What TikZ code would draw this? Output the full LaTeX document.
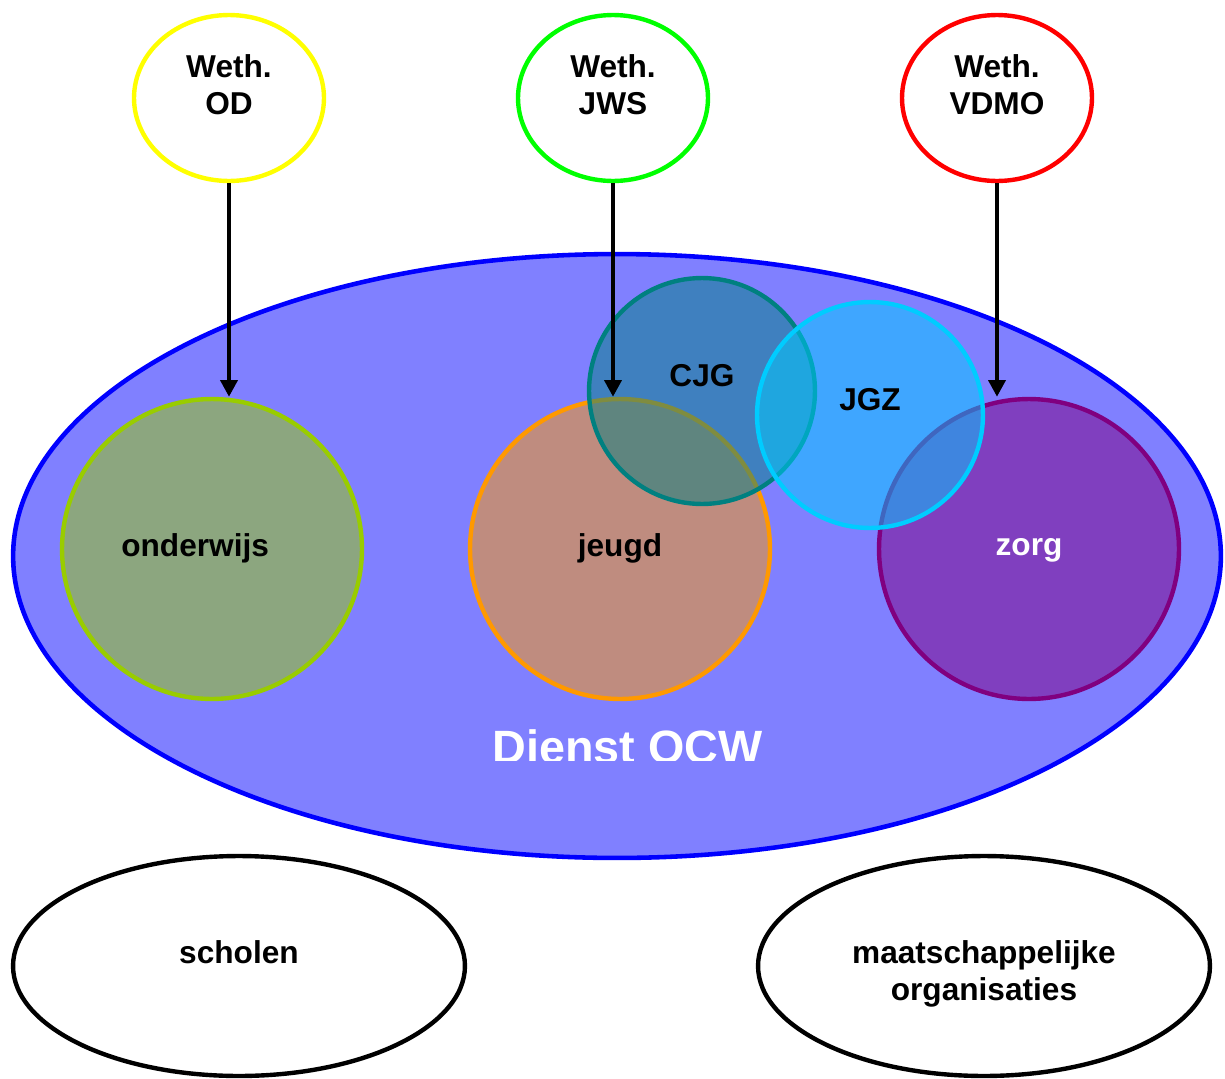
\documentclass[tikz,border=0pt]{standalone}
\usepackage{fontspec}
\setmainfont{Liberation Sans}
\usepackage{tikz}
\usetikzlibrary{shapes.geometric, arrows.meta, positioning}

\definecolor{ocwblauw}{RGB}{0,0,255}
\definecolor{ondgroen}{RGB}{153,204,0}
\definecolor{jeugdoranje}{RGB}{255,153,0}
\definecolor{zorgpaars}{RGB}{128,0,128}
\definecolor{cjgteal}{RGB}{0,128,128}
\definecolor{jgzcyaan}{RGB}{0,204,255}
\definecolor{wethgeel}{RGB}{255,255,0}
\definecolor{wethgroen}{RGB}{0,255,0}
\definecolor{wethrood}{RGB}{255,0,0}

\begin{document}
\begin{tikzpicture}[
    x=0.02cm, y=-0.02cm,
    txt/.style = {font=\fontsize{18}{21}\selectfont\bfseries, align=center, inner sep=0pt},
    dienst/.style = {
        ellipse,
        draw=ocwblauw,
        fill=ocwblauw!50,
        line width=2.6pt,
        minimum width=24.16cm,
        minimum height=12.08cm
    },
    taak/.style = {
        circle,
        draw=#1,
        fill=#1,
        fill opacity=0.5,
        draw opacity=1,
        text opacity=1,
        line width=2.5pt,
        minimum size=6cm,
        inner sep=0pt
    },
    loket/.style = {taak=#1, minimum size=4.52cm},
    weth/.style = {
        ellipse,
        draw=#1,
        fill=white,
        line width=2.5pt,
        minimum width=3.8cm,
        minimum height=3.32cm,
        inner sep=0pt
    },
    partner/.style = {
        ellipse,
        draw=black,
        fill=white,
        line width=2.5pt,
        minimum width=9.04cm,
        minimum height=4.4cm,
        inner sep=0pt
    },
    pijl/.style = {-{Triangle[length=9.5pt, width=9.5pt]}, line width=2.8pt, black}
]
\useasboundingbox (0,0) rectangle (1225,1079);

% de dienst
\node [dienst] (ocw) at (617,556) {};
\begin{scope}
    \clip (400,700) rectangle (850,760.5);
    \node [anchor=base, inner sep=0pt, text=white,
        font=\fontsize{26.6}{30}\selectfont\bfseries] (ocwtxt) at (627.5,763.5) {Dienst OCW};
\end{scope}

% taakvelden
\node [taak=ondgroen, label={[txt, xshift=-9.6pt, yshift=0.6pt]center:onderwijs}] (onderwijs) at (212,549) {};
\node [taak=jeugdoranje, label={[txt, yshift=0.6pt]center:jeugd}] (jeugd) at (620,549) {};
\node [taak=zorgpaars, label={[txt, text=white, yshift=-0.5pt]center:zorg}] (zorg) at (1029,549) {};
\node [loket=cjgteal, label={[txt, yshift=8.5pt]center:CJG}] (cjg) at (702,391) {};
\node [loket=jgzcyaan, label={[txt, yshift=8.5pt]center:JGZ}] (jgz) at (870,415) {};

% wethouders
\node [weth=wethgeel, label={[txt, yshift=7.4pt]center:{Weth.\\OD}}] (od) at (229,98) {};
\node [weth=wethgroen, label={[txt, yshift=7.4pt]center:{Weth.\\JWS}}] (jws) at (613,98) {};
\node [weth=wethrood, label={[txt, yshift=7.4pt]center:{Weth.\\VDMO}}] (vdmo) at (997,98) {};

\draw [pijl] (od.south) -- (od.south |- onderwijs.north);
\draw [pijl] (jws.south) -- (jws.south |- jeugd.north);
\draw [pijl] (vdmo.south) -- (vdmo.south |- zorg.north);

% buiten de dienst
\node [partner, label={[txt, yshift=8pt]center:scholen}] (scholen) at (239,966) {};
\node [partner, label={[txt, yshift=-4.3pt]center:{maatschappelijke\\organisaties}}] (maats) at (984,966) {};

\end{tikzpicture}
\end{document}
